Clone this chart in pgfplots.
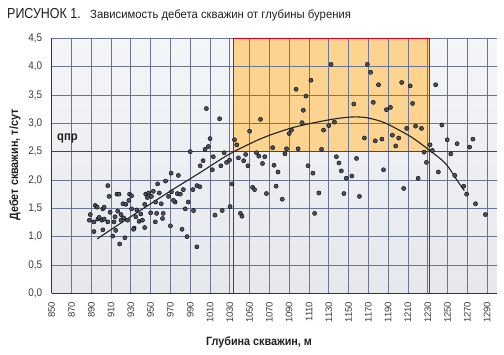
\documentclass[border=0pt]{standalone}
\usepackage{fontspec}
\setmainfont{Liberation Sans}
\newfontfamily\ttlA{Liberation Sans}[FakeStretch=0.86]
\newfontfamily\ttlB{Liberation Sans}[FakeStretch=0.95]
\newfontfamily\lblf{Liberation Sans}[FakeStretch=0.9]
\newfontfamily\yticf{Liberation Sans}[FakeStretch=0.9]
\usepackage{pgfplots}
\usepackage{pgfplotstable}
\pgfplotsset{compat=1.18}
\definecolor{bgtop}{HTML}{F3F5F9}
\definecolor{bgbot}{HTML}{E6E8EC}
\definecolor{gridc}{HTML}{6B7591}
\definecolor{orangec}{HTML}{FCD38F}
\definecolor{redc}{HTML}{E2001A}
\definecolor{ptc}{HTML}{4A5162}
\definecolor{axisc}{HTML}{333333}
\definecolor{tickc}{HTML}{3A3A3A}
\definecolor{curvec}{HTML}{222222}
\definecolor{titlec}{HTML}{231F20}

\pgfplotstableread{
x y
990 2.50
1000 2.25
970.7 2.12
978 2.08
957 1.93
965 1.98
906.7 1.90
983 1.83
992.7 1.83
996.7 1.90
916 1.75
918 1.75
908 1.71
928.7 1.75
930.7 1.72
945 1.75
948 1.77
952.7 1.80
958.7 1.77
946.7 1.69
950.7 1.71
968 1.71
971 1.79
977 1.76
980 1.75
928 1.64
922 1.58
925 1.57
955 1.61
960.7 1.58
974.7 1.61
973 1.64
988 1.61
944 1.57
894 1.55
896 1.52
901.7 1.49
903 1.52
889 1.39
888 1.29
892.7 1.26
896.7 1.31
898 1.34
900.7 1.29
903 1.31
906.7 1.26
909 1.43
914 1.35
916.7 1.45
920 1.39
922.7 1.33
920 1.29
913 1.26
926.7 1.29
930.7 1.49
936 1.47
935 1.35
938.3 1.27
940 1.40
941.7 1.29
950 1.42
956 1.41
962.7 1.41
954.7 1.26
962 1.32
944 1.16
933.3 1.15
932.7 1.13
914.7 1.11
892.7 1.09
901.7 1.12
911.7 1.01
924 0.98
918.7 0.87
970 1.19
981.7 1.13
986.7 1.00
996.7 0.82
985 1.49
993.3 1.46
1006.3 3.26
1019.7 3.08
1010 2.73
1008.3 2.59
1005 2.54
1003 2.34
1013.3 2.41
1012.3 2.18
1021 2.25
1024.3 2.48
1026.7 2.31
1029.7 2.35
1034.7 2.71
1037 2.62
1032.3 1.93
999.7 1.88
1030.3 1.53
1022.3 1.46
1015 1.38
1040.7 1.41
1042.3 1.36
1038.7 2.39
1044 2.34
1046 2.45
1048.3 2.25
1050 2.86
1061 3.07
1057 2.48
1059.3 2.42
1065.3 2.41
1063 2.29
1053 1.87
1055 1.83
1067 1.76
1074.7 2.26
1078.7 2.14
1076.7 1.89
1083 1.66
1073.3 2.57
1087.3 2.55
1085.7 2.46
1099 2.55
1090 2.82
1092.3 2.88
1103 3.01
1104.3 3.23
1107 3.48
1097 3.60
1112 3.76
1109 2.25
1114 2.12
1115.7 1.41
1132.3 4.04
1169 4.04
1172.3 3.90
1180.3 3.68
1203.7 3.72
1212.3 3.66
1155.3 3.34
1175 3.37
1188.3 3.24
1192.3 3.28
1214.7 3.35
1135.7 3.02
1130 2.96
1124.7 2.88
1208.7 2.91
1217.7 2.95
1223.7 2.91
1194.3 2.79
1200.7 2.74
1197.7 2.60
1166 2.74
1177 2.69
1183.7 2.72
1122.7 2.54
1226.3 2.49
1228.7 2.31
1137.7 2.41
1140.3 2.30
1158 2.38
1142.7 2.16
1147.7 2.03
1153.3 2.07
1185.3 2.18
1220.3 2.03
1120 1.77
1145.3 1.76
1161 1.71
1205.7 1.85
1238 3.68
1244.3 2.97
1249.7 2.71
1259.7 2.64
1275.7 2.72
1272.3 2.58
1253.3 2.46
1232.3 2.62
1234.7 2.52
1240.7 2.14
1257.3 2.08
1266.3 1.89
1269.3 1.75
1278.3 1.58
1288.3 1.39
}\wells

\begin{document}
\begin{tikzpicture}
\begin{axis}[
  set layers=standard,
  at={(51.7pt,61.7pt)}, anchor=south west,
  scale only axis, width=445.3pt, height=255pt,
  xmin=850, xmax=1300, ymin=0, ymax=4.5,
  xtick={850,870,...,1290}, ytick={0,0.5,...,4.5},
  grid=major, grid style={draw=gridc, line width=0.8pt},
  major tick length=0pt,
  axis x line*=bottom, axis y line*=left,
  axis line style={draw=axisc, line width=1pt, -},
  axis background/.style={top color=bgtop, bottom color=bgbot, draw=none},
  clip=false,
  /pgf/number format/assume math mode=true,
  /pgf/number format/1000 sep={},
  xticklabel shift=5pt,
  yticklabel shift=6pt,
  xticklabel style={font=\fontsize{9.5}{10}\selectfont, rotate=90, anchor=east, text=tickc},
  yticklabel style={font=\yticf\fontsize{11}{12}\selectfont, text=tickc,
    /pgf/number format/.cd, fixed, fixed zerofill, precision=1, use comma},
]
\addplot[fill=orangec, draw=none, on layer=axis background] coordinates {(1034,2.5) (1232,2.5) (1232,4.5) (1034,4.5) (1034,2.5)};
\addplot[redc, line width=1pt, no marks] coordinates {(850,2.5) (1300,2.5)};
\addplot[redc, line width=1pt, no marks] coordinates {(1034,0) (1034,4.5)};
\addplot[redc, line width=1pt, no marks] coordinates {(1232,0) (1232,4.5)};
\addplot[redc, line width=1pt, no marks] coordinates {(1034,4.5) (1232,4.5)};
\addplot[only marks, mark=*, mark size=2.1pt, mark options={fill=ptc, draw=none}] table[x=x, y=y] {\wells};
\addplot[smooth, draw=curvec, line width=1.1pt, no marks] coordinates {
(896,0.96) (920,1.24) (950,1.58) (975,1.86) (1000,2.13) (1030,2.46) (1063,2.74) (1095,2.93) (1130,3.06) (1152,3.11) (1168,3.10) (1185,3.02) (1200,2.89) (1215,2.74) (1232,2.52) (1248,2.29) (1261,1.96) (1267,1.81)};
\end{axis}
\node[anchor=base west, inner sep=0, font=\ttlA\fontsize{14.5}{15}\selectfont, text=titlec] at (7pt,336.7pt) {РИСУНОК 1.};
\node[anchor=base west, inner sep=0, font=\ttlB\fontsize{11.9}{12}\selectfont, text=titlec] at (90pt,336.7pt) {Зависимость дебета скважин от глубины бурения};
\node[rotate=90, inner sep=0, font=\lblf\bfseries\fontsize{12}{13}\selectfont, text=titlec] at (15pt,190pt) {Дебет скважин, т/сут};
\node[anchor=base, inner sep=0, font=\lblf\bfseries\fontsize{12}{13}\selectfont, text=titlec] at (259pt,9pt) {Глубина скважин, м};
\node[anchor=base west, inner sep=0, font=\lblf\bfseries\fontsize{12.5}{13}\selectfont, text=titlec] at (57pt,214pt) {qпр};
\path (0,0) rectangle (504pt,355pt);
\end{tikzpicture}
\end{document}
